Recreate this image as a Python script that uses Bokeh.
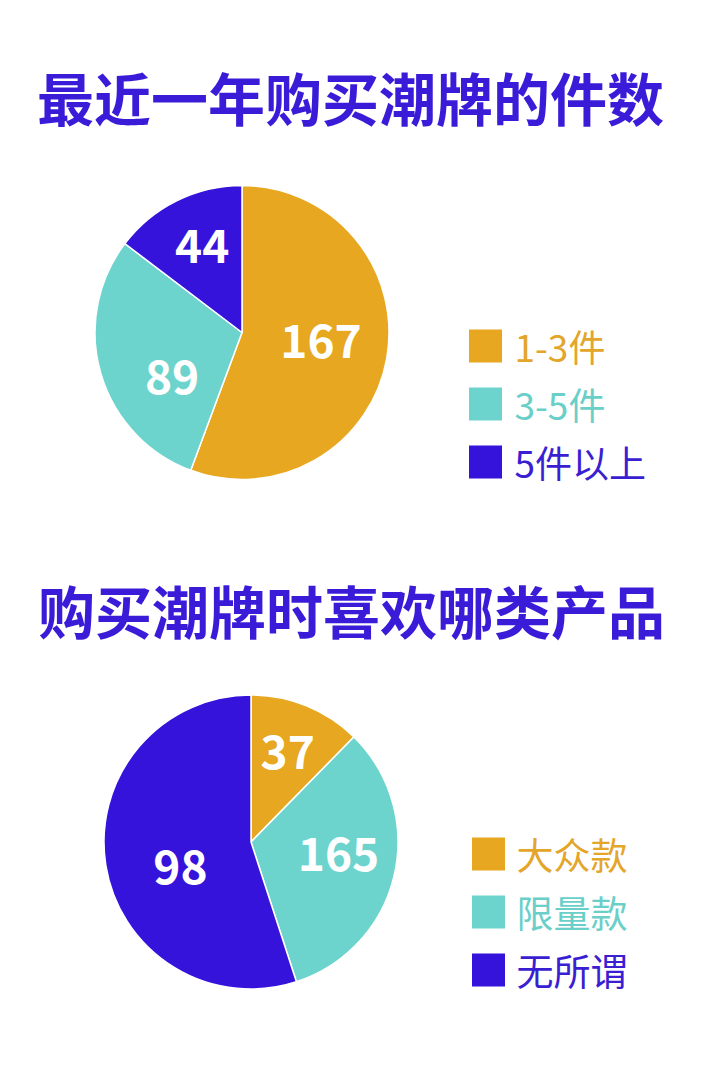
import math
from bokeh.plotting import figure
from bokeh.models import Range1d, ColumnDataSource
from bokeh.core.properties import value
from bokeh.embed import file_html
from bokeh.resources import INLINE

# ---------------- data ----------------
title1 = "最近一年购买潮牌的件数"
categories1 = ["1-3件", "3-5件", "5件以上"]
values1 = [167, 89, 44]
labels1 = ["167", "89", "44"]

title2 = "购买潮牌时喜欢哪类产品"
categories2 = ["大众款", "限量款", "无所谓"]
values2 = [37, 98, 165]            # slice sizes as drawn in the reference
labels2 = ["37", "165", "98"]      # numbers printed on the slices in the reference

# ---------------- style ----------------
slice_colors = ["#E7A720", "#6DD4CD", "#3613DB"]
legend_text_colors = ["#E3A52A", "#6ACFC8", "#3A1ED2"]
TITLE_COLOR = "#3A1BD8"
CJK = "Noto Sans CJK SC"

W, H = 704, 1068
p = figure(width=W, height=H, output_backend="svg", toolbar_location=None,
           x_range=Range1d(0, W), y_range=Range1d(-H, 0),
           min_border=0, x_axis_location=None, y_axis_location=None)
p.grid.visible = False
p.outline_line_color = None
p.background_fill_color = "white"
p.border_fill_color = "white"

# page coordinates -> data coordinates (data y = -page y)
def Y(py):
    return -py


def draw_chart(title, title_xy, cats, vals, labs, center, radius,
               label_frac, label_nudge, legend_sq_x, legend_text_x, legend_y0, legend_dy):
    cx, cy = center
    # title
    p.text(x=[title_xy[0]], y=[Y(title_xy[1])], text=[title],
           text_font=value(CJK), text_font_style="bold", text_font_size="57px",
           text_color=TITLE_COLOR, text_align="center", text_baseline="middle")
    total = float(sum(vals))
    starts, ends, lx, ly = [], [], [], []
    acc = 0.0
    for i, v in enumerate(vals):
        t1 = acc / total * 360.0
        acc += v
        t2 = acc / total * 360.0
        starts.append(math.radians(90 - t1))
        ends.append(math.radians(90 - t2))
        tm = math.radians((t1 + t2) / 2 + label_nudge[i])
        d = label_frac[i] * radius
        lx.append(cx + d * math.sin(tm))
        ly.append(Y(cy - d * math.cos(tm)))
    src = ColumnDataSource(dict(start=starts, end=ends, color=slice_colors,
                                x=[cx] * len(vals), y=[Y(cy)] * len(vals)))
    p.wedge(x="x", y="y", radius=radius, start_angle="start", end_angle="end",
            direction="clock", fill_color="color", line_color="white",
            line_width=1.5, source=src)
    p.text(x=lx, y=ly, text=labs, text_font=value(CJK), text_font_style="bold",
           text_font_size="46px", text_color="white",
           text_align="center", text_baseline="middle")
    # legend
    ys = [Y(legend_y0 + i * legend_dy) for i in range(len(cats))]
    p.rect(x=[legend_sq_x] * len(cats), y=ys, width=33, height=33,
           width_units="screen", height_units="screen",
           fill_color=slice_colors, line_color=None)
    p.text(x=[legend_text_x] * len(cats), y=ys, text=cats,
           text_font=value(CJK), text_font_size="37px",
           text_color=legend_text_colors, text_align="left", text_baseline="middle")


draw_chart(title1, (350, 95), categories1, values1, labels1,
           center=(241.5, 332), radius=147,
           label_frac=[0.54, 0.565, 0.65], label_nudge=[-4.4, -16.4, 1.8],
           legend_sq_x=485, legend_text_x=514, legend_y0=345.5, legend_dy=58)

draw_chart(title2, (351, 608), categories2, values2, labels2,
           center=(250.5, 841.5), radius=147,
           label_frac=[0.66, 0.60, 0.51], label_nudge=[0.0, -5.7, -10.7],
           legend_sq_x=488, legend_text_x=516, legend_y0=853.5, legend_dy=58)

open("out.html", "w").write(file_html(p, INLINE))
